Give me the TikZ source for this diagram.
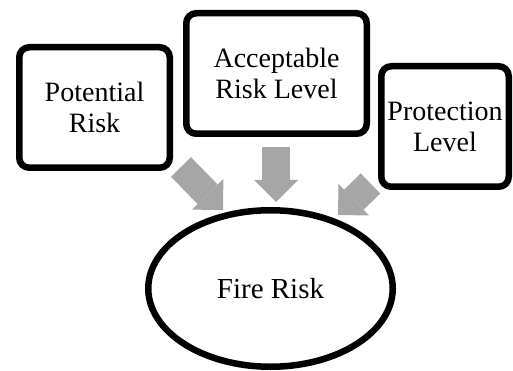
\documentclass[tikz,border=0pt]{standalone}
\usepackage{fontspec}
\setmainfont{Liberation Serif}
\usetikzlibrary{arrows.meta,shapes.geometric,shadows}
\definecolor{flowgray}{RGB}{166,166,166}

\begin{document}
\begin{tikzpicture}[
        x=1pt,y=-1pt,
        factor/.style={
          draw,line width=6.5pt,fill=white,align=center,inner sep=0pt,
          font=\fontsize{28}{31}\selectfont,
          drop shadow={shadow xshift=2pt,shadow yshift=-2.5pt,opacity=0.2}},
        box/.style={factor,rounded corners=10pt,minimum height=120.5pt},
        result/.style={factor,ellipse,font=\fontsize{29}{32}\selectfont},
        flow/.style={draw=flowgray,line width=28pt,
          -{Triangle[length=22pt,width=44pt,line width=0pt]}}]
      \useasboundingbox (0,0) rectangle (513,371);
      \node[box, minimum width=150.5pt] (potential) at (94.5,107.5) {Potential\\Risk};
      \node[box, minimum width=180.5pt] (acceptable) at (276.5,73.5) {Acceptable\\Risk Level};
      \node[box, minimum width=127.5pt] (protection) at (445,126.5) {Protection\\Level};
      \node[result, minimum width=244.5pt, minimum height=156.5pt] (fire) at (270.5,288.5) {Fire Risk};
      % arrow ends
      \coordinate (potential-out) at (181,167);
      \coordinate (potential-in) at (223,210);
      \coordinate (acceptable-out) at (276,147);
      \coordinate (acceptable-in) at (276,202);
      \coordinate (protection-out) at (370.5,183.5);
      \coordinate (protection-in) at (338,215);
      \path (potential-out) edge[flow] (potential-in);
      \path (acceptable-out) edge[flow] (acceptable-in);
      \path (protection-out) edge[flow] (protection-in);
    \end{tikzpicture}
\end{document}
